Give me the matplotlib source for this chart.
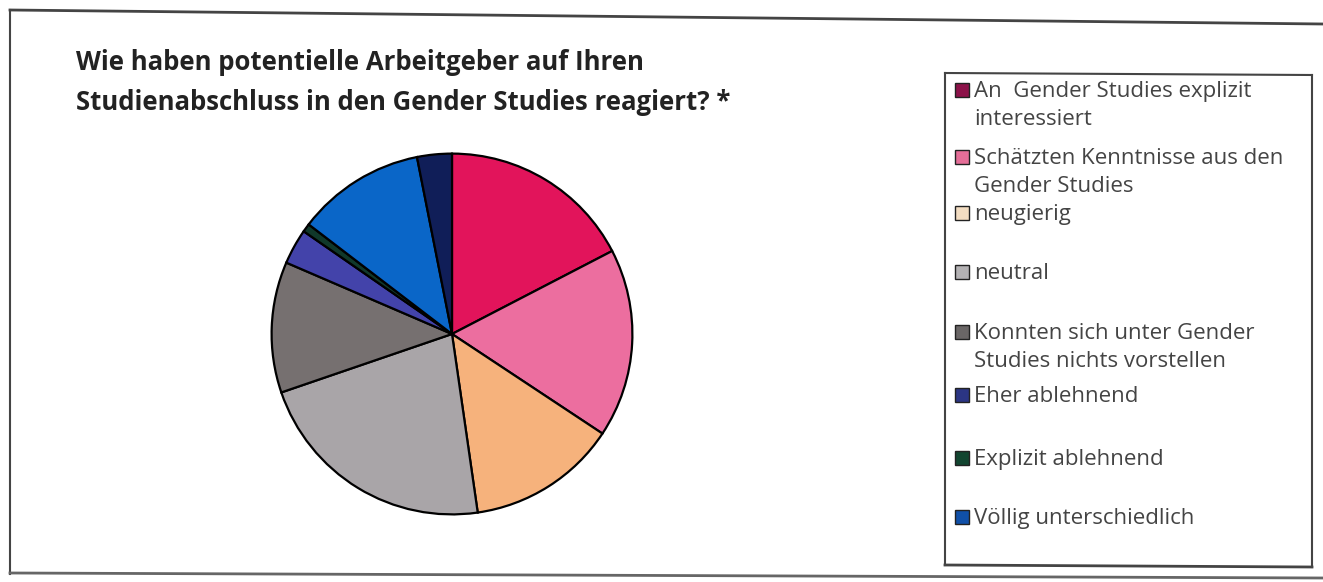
import matplotlib.pyplot as plt
from matplotlib.patches import Rectangle
from matplotlib.lines import Line2D

plt.rcParams['font.family'] = ['Open Sans', 'DejaVu Sans']

# slice sizes (degrees of the circle)
labels = ["An  Gender Studies explizit\ninteressiert",
          "Schätzten Kenntnisse aus den\nGender Studies",
          "neugierig",
          "neutral",
          "Konnten sich unter Gender\nStudies nichts vorstellen",
          "Eher ablehnend",
          "Explizit ablehnend",
          "Völlig unterschiedlich",
          ""]
values = [62.6, 60.9, 48.3, 79.3, 42.2, 11.4, 2.7, 41.4, 11.2]
pie_colors = ["#E2145B", "#EC6E9F", "#F6B27C", "#A9A5A8", "#767070",
              "#4343AA", "#10382A", "#0A66C8", "#101E58"]
swatch_colors = ["#8C1249", "#E56E98", "#F3DDC2", "#B4B2B4", "#6A6666",
                 "#2B3583", "#124530", "#1050A8"]

W, H = 1323, 582
fig = plt.figure(figsize=(W / 100, H / 100), dpi=100)
fig.patch.set_facecolor("white")

# pie
cx, cy, r = 452, 334, 184
ax = fig.add_axes([(cx - r) / W, (H - cy - r) / H, 2 * r / W, 2 * r / H])
ax.pie(values, colors=pie_colors, startangle=90, counterclock=False,
       wedgeprops=dict(edgecolor="black", linewidth=1.6))
ax.set_xlim(-1.02, 1.02)
ax.set_ylim(-1.02, 1.02)
ax.set_aspect("equal")
ax.axis("off")

# title
fig.text(76 / W, 1 - 62 / H, "Wie haben potentielle Arbeitgeber auf Ihren",
         fontsize=18.5, fontweight="bold", color="#222222", va="center")
fig.text(76 / W, 1 - 103 / H, "Studienabschluss in den Gender Studies reagiert? *",
         fontsize=18.5, fontweight="bold", color="#222222", va="center")

# outer frame
def px_line(x0, y0, x1, y1, lw=1.5, c="#444444"):
    fig.add_artist(Line2D([x0 / W, x1 / W], [1 - y0 / H, 1 - y1 / H],
                          color=c, linewidth=lw, transform=fig.transFigure))

px_line(10, 10, 1323, 24, lw=2)
px_line(10, 10, 10, 574, lw=1.5)
px_line(10, 573, 1323, 578, lw=2, c="#666666")

# legend box
lx0, ly0, lx1, ly1 = 945, 73, 1312, 565
px_line(lx0, ly0, lx1, ly0 + 2)
px_line(lx0, ly0, lx0, ly1)
px_line(lx1, ly0 + 2, lx1, ly1 + 2)
px_line(lx0, ly1, lx1, ly1 + 2, lw=2)

entry_y = [90, 157, 213, 272, 332, 395, 458, 517]
for lab, col, y in zip(labels[:8], swatch_colors, entry_y):
    fig.add_artist(Rectangle((955 / W, 1 - (y + 7) / H), 14 / W, 14 / H,
                             facecolor=col, edgecolor="#222222", linewidth=1.0,
                             transform=fig.transFigure))
    fig.text(974 / W, 1 - (y - 9) / H, lab, fontsize=16, color="#444444",
             va="top", linespacing=1.45)

fig.savefig("out.png", dpi=100)
